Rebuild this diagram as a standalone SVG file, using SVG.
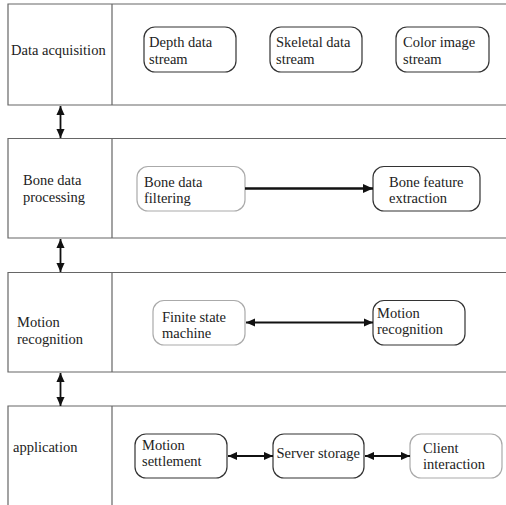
<svg xmlns="http://www.w3.org/2000/svg" width="506" height="505" viewBox="0 0 506 505" font-family="'Liberation Serif', 'DejaVu Serif', 'Times New Roman', serif">
<style>
.lane{fill:none;stroke:#666;stroke-width:1.2}
.node{fill:#fff;stroke:#333;stroke-width:1.2}
.light{stroke:#aaa}
text{font-family:'Liberation Serif','DejaVu Serif','Times New Roman',serif;font-size:14.5px;fill:#222}
.conn{stroke:#111;stroke-width:1.8;fill:none}
</style>
<defs>
<marker id="ah" viewBox="0 0 10 10" refX="10" refY="5" markerWidth="9" markerHeight="9" markerUnits="userSpaceOnUse" orient="auto-start-reverse">
<path d="M0,0.5 L10,5 L0,9.5 z" fill="#111"/>
</marker>
<marker id="ahb" viewBox="0 0 10 10" refX="10" refY="5" markerWidth="11" markerHeight="10" markerUnits="userSpaceOnUse" orient="auto">
<path d="M0,0.5 L10,5 L0,9.5 z" fill="#111"/>
</marker>
</defs>
<rect width="506" height="505" fill="#fff"/>
<g id="lane1">
<path class="lane" d="M507,4 H8 V105 H507 M112,4 V105"/>
<text x="11" y="55">Data acquisition</text>
</g>
<g id="lane2">
<path class="lane" d="M507,138.5 H8 V238 H507 M112,138.5 V238"/>
<text x="23" y="185">Bone data</text>
<text x="23" y="202">processing</text>
</g>
<g id="lane3">
<path class="lane" d="M507,272.5 H8 V372 H507 M112,272.5 V372"/>
<text x="17" y="327">Motion</text>
<text x="17" y="344">recognition</text>
</g>
<g id="lane4">
<path class="lane" d="M507,406 H8 V506 M112,406 V506"/>
<text x="13" y="452">application</text>
</g>
<g id="depth">
<rect class="node" x="144" y="27" width="92" height="45" rx="11"/>
<text x="149" y="47">Depth data</text>
<text x="149" y="64">stream</text>
</g>
<g id="skeletal">
<rect class="node" x="270" y="27" width="92" height="45" rx="11"/>
<text x="276" y="47">Skeletal data</text>
<text x="276" y="64">stream</text>
</g>
<g id="color">
<rect class="node" x="396" y="27" width="93" height="45" rx="11"/>
<text x="403" y="47">Color image</text>
<text x="403" y="64">stream</text>
</g>
<g id="filtering">
<rect class="node light" x="137" y="166.5" width="108" height="44.5" rx="11"/>
<text x="144" y="187">Bone data</text>
<text x="144" y="203">filtering</text>
</g>
<g id="feature">
<rect class="node" x="373" y="166.5" width="107" height="44.5" rx="11"/>
<text x="389" y="187">Bone feature</text>
<text x="389" y="203">extraction</text>
</g>
<g id="fsm">
<rect class="node light" x="153" y="300.5" width="92" height="44.5" rx="11"/>
<text x="162" y="322">Finite state</text>
<text x="162" y="338">machine</text>
</g>
<g id="motionrec">
<rect class="node" x="373" y="300.5" width="92" height="44.5" rx="11"/>
<text x="377" y="318">Motion</text>
<text x="377" y="334">recognition</text>
</g>
<g id="settlement">
<rect class="node" x="135" y="434" width="92" height="44" rx="11"/>
<text x="142" y="450">Motion</text>
<text x="142" y="466">settlement</text>
</g>
<g id="server">
<rect class="node" x="273" y="434" width="91" height="44" rx="11"/>
<text x="276.5" y="458">Server storage</text>
</g>
<g id="client">
<rect class="node light" x="410" y="434" width="92" height="44" rx="11"/>
<text x="423" y="453">Client</text>
<text x="423" y="469">interaction</text>
</g>
<g id="connectors">
<line class="conn" x1="60.5" y1="106" x2="60.5" y2="138" marker-start="url(#ah)" marker-end="url(#ah)"/>
<line class="conn" x1="60.5" y1="239" x2="60.5" y2="272" marker-start="url(#ah)" marker-end="url(#ah)"/>
<line class="conn" x1="60.5" y1="373" x2="60.5" y2="406" marker-start="url(#ah)" marker-end="url(#ah)"/>
<line class="conn" style="stroke-width:2.4" x1="245" y1="188.5" x2="373" y2="188.5" marker-end="url(#ahb)"/>
<line class="conn" x1="246" y1="322.5" x2="373" y2="322.5" marker-start="url(#ah)" marker-end="url(#ah)"/>
<line class="conn" x1="228" y1="456" x2="273" y2="456" marker-start="url(#ah)" marker-end="url(#ah)"/>
<line class="conn" x1="365" y1="456" x2="410" y2="456" marker-start="url(#ah)" marker-end="url(#ah)"/>
</g>
</svg>
